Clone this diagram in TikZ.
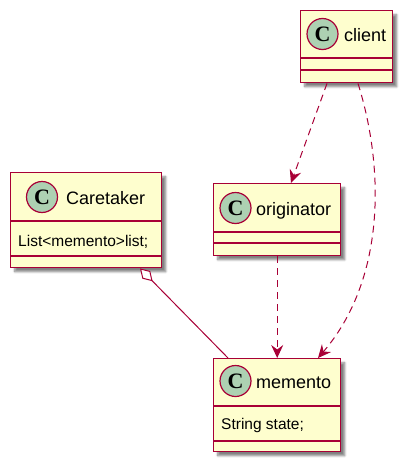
\documentclass[tikz,border=0pt]{standalone}
\usepackage{fontspec}
\setmainfont{Liberation Sans}
\newfontfamily\spotfont{Liberation Serif}
\usetikzlibrary{arrows.meta,shadows.blur}
\definecolor{umlborder}{HTML}{A80036}
\definecolor{umlfill}{HTML}{FEFECE}
\definecolor{umlspot}{HTML}{ADD1B2}
\tikzset{
  classbox/.style={draw=umlborder, fill=umlfill, line width=1.4pt, anchor=north west, inner sep=0pt,
    blur shadow={shadow xshift=4pt, shadow yshift=-4pt, shadow blur steps=6, shadow opacity=50}},
  sep/.style={draw=umlborder, line width=1.4pt},
  spot/.style={circle, draw=umlborder, fill=umlspot, line width=1.2pt, minimum size=31pt, inner sep=0pt,
    font=\spotfont\bfseries\fontsize{22}{22}\selectfont},
  cname/.style={anchor=base west, inner sep=0pt, font=\fontsize{18}{20}\selectfont},
  attr/.style={anchor=base west, inner sep=0pt, font=\fontsize{15.5}{18}\selectfont},
  dep/.style={draw=umlborder, line width=1pt, dash pattern=on 7pt off 5pt,
    -{Stealth[length=13pt,width=12pt,inset=4.5pt,fill=umlborder]}},
  agg/.style={draw=umlborder, line width=1pt, {Diamond[length=18pt,width=11pt,fill=white]}-},
}
\begin{document}
\begin{tikzpicture}[x=1pt,y=-1pt]
\useasboundingbox (0,0) rectangle (411,471);
% client
\node[classbox, minimum width=92pt, minimum height=72pt] (client) at (300,10) {};
\draw[sep] (300,58) -- (392,58) (300,70) -- (392,70);
\node[spot] (clientspot) at (322.5,34) {C};
\node[cname] (clientname) at (344,41) {client};
% Caretaker
\node[classbox, minimum width=151pt, minimum height=95pt] (care) at (10,172) {};
\draw[sep] (10,221) -- (161,221) (10,256) -- (161,256);
\node[spot] (carespot) at (42,197) {C};
\node[cname] (carename) at (66,204) {Caretaker};
\node[attr] (careattr) at (18,246) {List<memento>list;};
% originator
\node[classbox, minimum width=127pt, minimum height=72pt] (orig) at (213,183) {};
\draw[sep] (213,232) -- (340,232) (213,243) -- (340,243);
\node[spot] (origspot) at (235.5,208) {C};
\node[cname] (origname) at (256,215) {originator};
% memento
\node[classbox, minimum width=127pt, minimum height=93pt] (mem) at (213,358) {};
\draw[sep] (213,406) -- (340,406) (213,441) -- (340,441);
\node[spot] (memspot) at (235.5,381) {C};
\node[cname] (memname) at (256,388) {memento};
\node[attr] (memattr) at (221,429) {String state;};
% connectors
\draw[dep] ([xshift=27pt]client.south west) -- ([xshift=78pt]orig.north west);
\draw[dep] ([xshift=58pt]client.south west) .. controls (385,170) and (385,280) .. ([xshift=105pt]mem.north west);
\draw[dep] (orig.south) -- (mem.north);
\draw[agg] ([xshift=130pt]care.south west) -- ([xshift=15pt]mem.north west);
\end{tikzpicture}
\end{document}
